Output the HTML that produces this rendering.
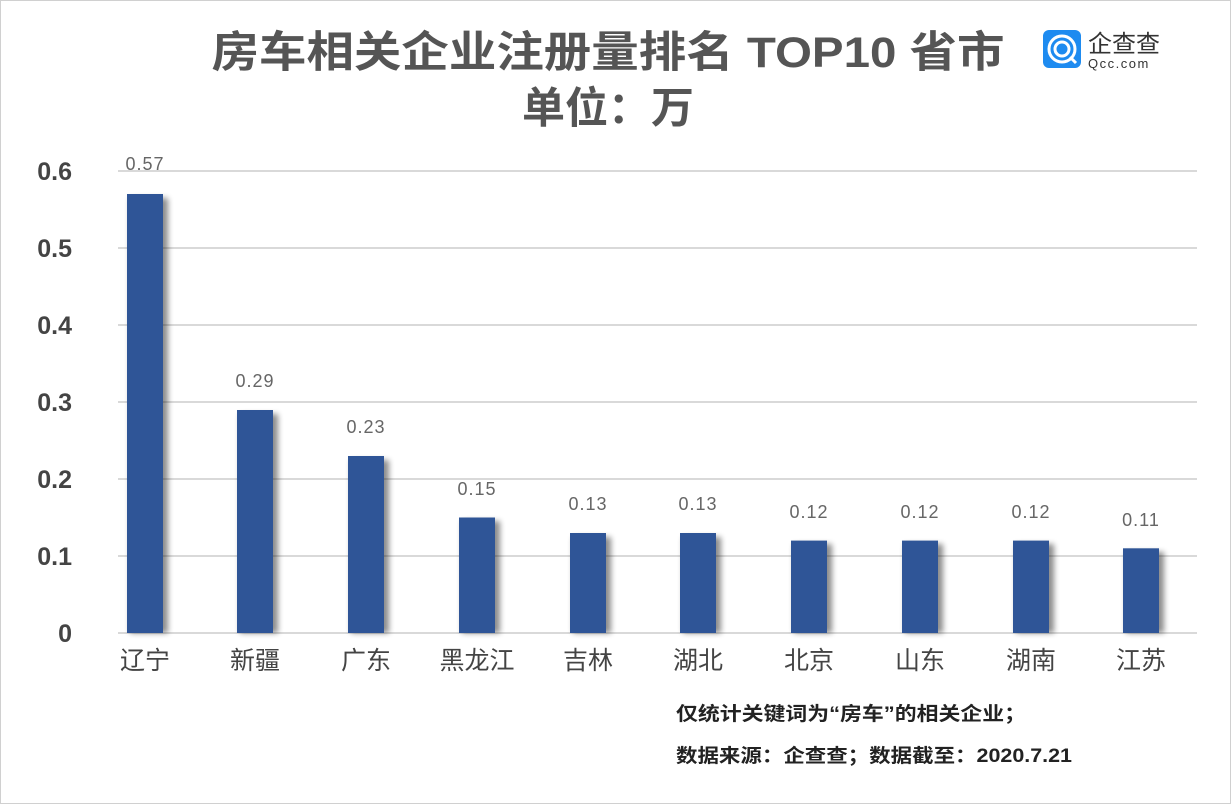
<!DOCTYPE html>
<html><head><meta charset="utf-8"><style>
body{margin:0;background:#fff}
svg{display:block;font-family:"Liberation Sans","Noto Sans CJK SC",sans-serif}
</style></head><body>
<svg width="1231" height="804" viewBox="0 0 1231 804">
<defs><filter id="sh" x="-30%" y="-10%" width="160%" height="120%"><feGaussianBlur stdDeviation="3"/></filter></defs>
<rect x="0.5" y="0.5" width="1230" height="803" fill="#fff" stroke="#d0d0d0"/>
<text x="608" y="67" text-anchor="middle" font-size="43" font-weight="bold" fill="#555" textLength="793" lengthAdjust="spacingAndGlyphs">房车相关企业注册量排名 TOP10 省市</text>
<text x="608" y="123" text-anchor="middle" font-size="43" font-weight="bold" fill="#555">单位：万</text>
<rect x="1043" y="30" width="38" height="38" rx="6" fill="#1e8bf0"/>
<circle cx="1062" cy="49" r="13" fill="none" stroke="#fff" stroke-width="3"/>
<circle cx="1062" cy="49" r="7" fill="none" stroke="#fff" stroke-width="3"/>
<line x1="1070" y1="57" x2="1076" y2="63" stroke="#fff" stroke-width="3"/>
<text x="1088" y="52" font-size="24" fill="#333">企查查</text>
<text x="1088" y="68" font-size="13" fill="#333" letter-spacing="1.5">Qcc.com</text>
<g stroke="#d9d9d9" stroke-width="2">
<line x1="118" x2="1197" y1="171" y2="171"/><line x1="118" x2="1197" y1="248" y2="248"/>
<line x1="118" x2="1197" y1="325" y2="325"/><line x1="118" x2="1197" y1="402" y2="402"/>
<line x1="118" x2="1197" y1="479" y2="479"/><line x1="118" x2="1197" y1="556" y2="556"/>
<line x1="118" x2="1197" y1="633" y2="633"/></g>
<g font-size="25" fill="#444" text-anchor="end" font-weight="bold">
<text x="72" y="180">0.6</text><text x="72" y="257">0.5</text><text x="72" y="334">0.4</text>
<text x="72" y="411">0.3</text><text x="72" y="488">0.2</text><text x="72" y="565">0.1</text><text x="72" y="642">0</text></g>
<g fill="#000" opacity=".45" filter="url(#sh)">
<rect x="130" y="198" width="38" height="435"/>
<rect x="240" y="414" width="38" height="219"/>
<rect x="351" y="460" width="38" height="173"/>
<rect x="462" y="521" width="38" height="112"/>
<rect x="573" y="537" width="38" height="96"/>
<rect x="683" y="537" width="38" height="96"/>
<rect x="794" y="544" width="38" height="89"/>
<rect x="905" y="544" width="38" height="89"/>
<rect x="1016" y="544" width="38" height="89"/>
<rect x="1126" y="552" width="38" height="81"/>
</g>
<g fill="#2f5597">
<rect x="127" y="194" width="36" height="439"/>
<rect x="237" y="410" width="36" height="223"/>
<rect x="348" y="456" width="36" height="177"/>
<rect x="459" y="517.5" width="36" height="115.5"/>
<rect x="570" y="533" width="36" height="100"/>
<rect x="680" y="533" width="36" height="100"/>
<rect x="791" y="540.6" width="36" height="92.4"/>
<rect x="902" y="540.6" width="36" height="92.4"/>
<rect x="1013" y="540.6" width="36" height="92.4"/>
<rect x="1123" y="548.3" width="36" height="84.7"/>
</g>
<g font-size="18" fill="#666" text-anchor="middle" letter-spacing="1">
<text x="145" y="170">0.57</text><text x="255" y="387">0.29</text><text x="366" y="433">0.23</text>
<text x="477" y="495">0.15</text><text x="588" y="510">0.13</text><text x="698" y="510">0.13</text>
<text x="809" y="518">0.12</text><text x="920" y="518">0.12</text><text x="1031" y="518">0.12</text><text x="1141" y="526">0.11</text></g>
<g font-size="25" fill="#444" text-anchor="middle">
<text x="145" y="669">辽宁</text><text x="255" y="669">新疆</text><text x="366" y="669">广东</text>
<text x="477" y="669">黑龙江</text><text x="588" y="669">吉林</text><text x="698" y="669">湖北</text>
<text x="809" y="669">北京</text><text x="920" y="669">山东</text><text x="1031" y="669">湖南</text><text x="1141" y="669">江苏</text></g>
<g font-size="19" font-weight="bold" fill="#222">
<text x="676" y="720" textLength="350" lengthAdjust="spacingAndGlyphs">仅统计关键词为“房车”的相关企业；</text>
<text x="676" y="762" textLength="396" lengthAdjust="spacingAndGlyphs">数据来源：企查查；数据截至：2020.7.21</text></g>
</svg>
</body></html>
